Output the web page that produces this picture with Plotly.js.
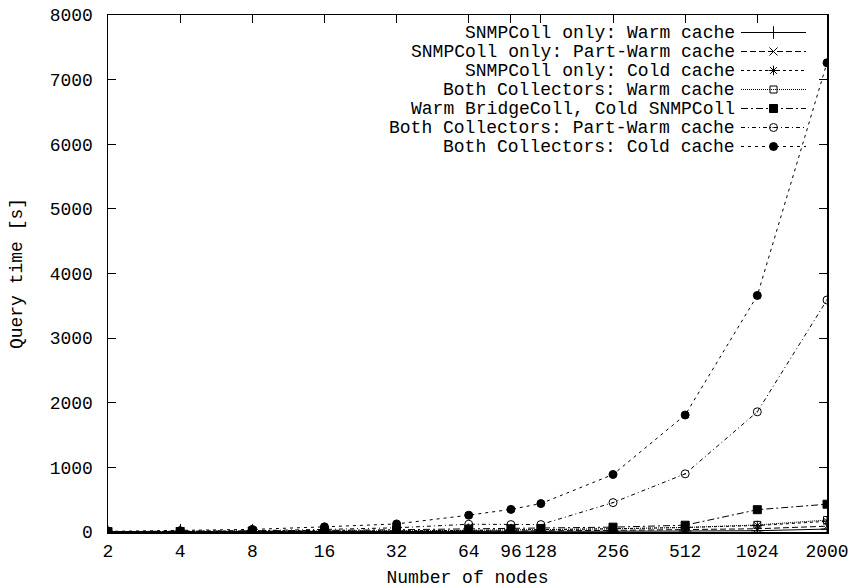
<!DOCTYPE html>
<html>
<head>
<meta charset="utf-8">
<script src="https://cdn.plot.ly/plotly-3.0.1.min.js"></script>
<style>html,body{margin:0;padding:0;background:#fff;}#chart{width:851px;height:588px;}</style>
</head>
<body>
<div id="chart"></div>
<script>
// Data
const nodes = [2, 4, 8, 16, 32, 64, 96, 128, 256, 512, 1024, 2000];
const tickLabels = ["2", "4", "8", "16", "32", "64", "96", "128", "256", "512", "1024", "2000"];
const seriesNames = [
  "SNMPColl only: Warm cache",
  "SNMPColl only: Part-Warm cache",
  "SNMPColl only: Cold cache",
  "Both Collectors: Warm cache",
  "Warm BridgeColl, Cold SNMPColl",
  "Both Collectors: Part-Warm cache",
  "Both Collectors: Cold cache"
];
const snmpWarm      = [1, 1, 2, 3, 4, 6, 8, 10, 12, 15, 20, 45];
const snmpPartWarm  = [2, 3, 4, 6, 8, 12, 15, 18, 25, 35, 50, 90];
const snmpCold      = [3, 5, 8, 12, 18, 25, 30, 35, 50, 70, 100, 165];
const bothWarm      = [3, 5, 8, 12, 18, 25, 30, 35, 50, 70, 110, 185];
const bridgeWarmSnmpCold = [5, 8, 15, 25, 35, 45, 50, 55, 75, 105, 345, 430];
const bothPartWarm  = [5, 10, 20, 40, 65, 120, 115, 115, 455, 900, 1860, 3590];
const bothCold      = [10, 20, 40, 80, 125, 260, 350, 440, 890, 1810, 3660, 7260];

const seriesValues = [snmpWarm, snmpPartWarm, snmpCold, bothWarm, bridgeWarmSnmpCold, bothPartWarm, bothCold];

// Styles
const dashes = ["solid", "6px,3px", "3px,3px", "1px,1px", "7px,3px,2px,3px", "4px,3px,1px,3px", "3px,4px"];
const symbols = ["cross-thin-open", "x-thin-open", "asterisk-open", "square-open", "square", "circle-open-dot", "circle"];
const msizes = [9, 8, 8, 7, 8, 8, 8];

const FONT = "Liberation Mono, Courier New, monospace";

const traces = seriesValues.map((vals, i) => ({
  type: "scatter",
  mode: "lines+markers",
  x: nodes,
  y: vals,
  name: "",
  line: {color: "#000", width: 1, dash: dashes[i]},
  marker: {symbol: symbols[i], size: msizes[i], color: "#000", line: {color: "#000", width: 1}},
  showlegend: true
}));

// layout geometry
const W = 851, H = 588;
const L = 108, R = 24, T = 15, B = 56;
const plotW = W - L - R, plotH = H - T - B;
const legendRight = 737, legendTop = 33, rowGap = 19;

const annotations = seriesNames.map((s, i) => ({
  text: s,
  xref: "paper", yref: "paper",
  x: (legendRight - L) / plotW,
  y: (H - B - (legendTop + i * rowGap)) / plotH,
  xanchor: "right", yanchor: "middle",
  showarrow: false,
  font: {family: FONT, size: 18, color: "#000"}
}));

const layout = {
  width: W, height: H,
  margin: {l: L, r: R, t: T, b: B, pad: 0},
  paper_bgcolor: "#fff", plot_bgcolor: "#fff",
  font: {family: FONT, size: 18, color: "#000"},
  showlegend: true,
  legend: {
    x: (736 - L) / plotW, xanchor: "left",
    y: (H - B - (legendTop - 15)) / plotH, yanchor: "top",
    bgcolor: "rgba(0,0,0,0)", borderwidth: 0,
    font: {family: FONT, size: 12},
    tracegroupgap: 0, itemwidth: 65
  },
  xaxis: {
    type: "log",
    range: [Math.log10(2), Math.log10(2000)],
    tickmode: "array", tickvals: nodes, ticktext: tickLabels,
    ticks: "inside", ticklen: 8, tickwidth: 1, tickcolor: "#000",
    showline: true, linecolor: "#000", linewidth: 1.5, mirror: "ticks",
    showgrid: false, zeroline: false, automargin: false,
    tickfont: {family: FONT, size: 18},
    ticklabelstandoff: 2,
    title: {text: "Number of nodes", font: {family: FONT, size: 18}, standoff: 14}
  },
  yaxis: {
    range: [0, 8000], dtick: 1000, tick0: 0,
    ticks: "inside", ticklen: 8, tickwidth: 1, tickcolor: "#000",
    showline: true, linecolor: "#000", linewidth: 1.5, mirror: "ticks",
    showgrid: false, zeroline: false, automargin: false,
    tickfont: {family: FONT, size: 18},
    ticklabelstandoff: 10,
    title: {text: "Query time [s]", font: {family: FONT, size: 18}, standoff: 22}
  },
  annotations: annotations
};

Plotly.newPlot("chart", traces, layout, {displayModeBar: false, staticPlot: true});
</script>
</body>
</html>
